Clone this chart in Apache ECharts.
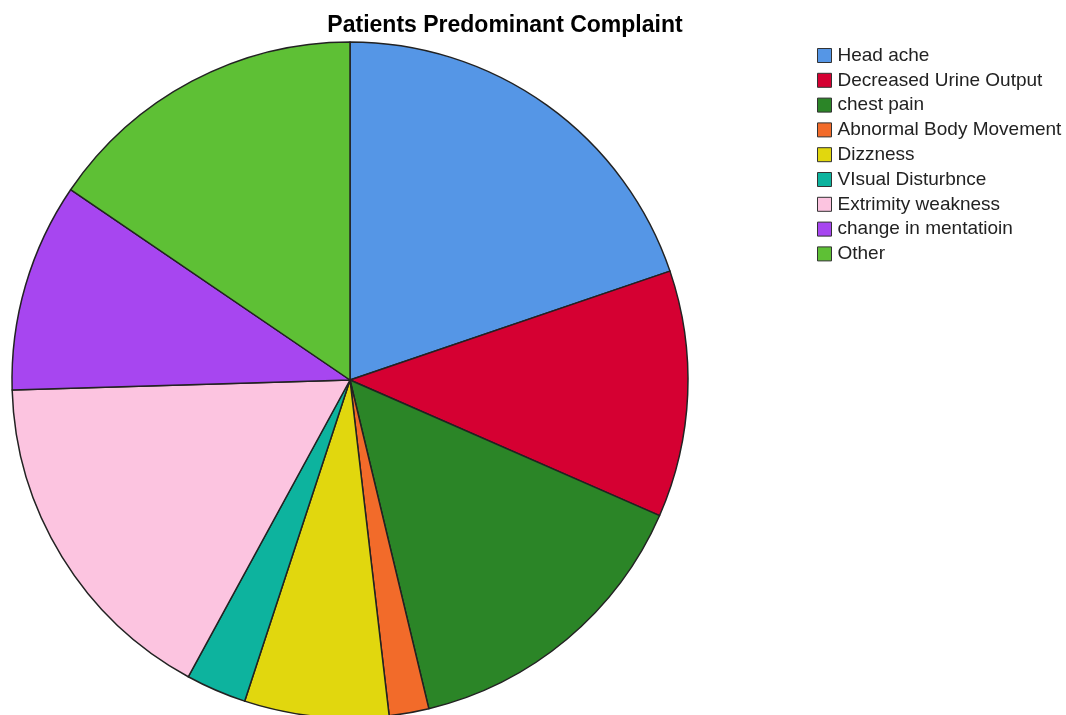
<!DOCTYPE html>
<html>
<head>
<meta charset="utf-8">
<script src="https://cdn.jsdelivr.net/npm/echarts@6/dist/echarts.min.js"></script>
<style>
  html, body { margin: 0; padding: 0; background: #fff; }
  #chart { width: 1066px; height: 715px; }
</style>
</head>
<body>
<div id="chart"></div>
<script>
// complaint categories, clockwise from 12 o'clock
const complaints = [
  "Head ache",
  "Decreased Urine Output",
  "chest pain",
  "Abnormal Body Movement",
  "Dizzness",
  "VIsual Disturbnce",
  "Extrimity weakness",
  "change in mentatioin",
  "Other"
];
// percent share
const shares = [19.8, 11.8, 14.7, 1.9, 6.9, 2.9, 16.6, 10.0, 15.5];
const colors = [
  "#5596E6", "#D50032", "#2B8527", "#F26B2A", "#E1D70E",
  "#0DB39E", "#FCC4E0", "#A746F0", "#5EC035"
];

let chart = echarts.init(document.getElementById("chart"));
let option = {
  animation: false,
  title: {
    text: "Patients Predominant Complaint",
    left: 500,
    textAlign: "center",
    top: 9,
    textStyle: {
      fontFamily: "Liberation Sans",
      fontSize: 23,
      fontWeight: "bold",
      color: "#000"
    }
  },
  legend: {
    orient: "vertical",
    left: 817,
    top: 46,
    padding: 0,
    icon: "rect",
    itemWidth: 14,
    itemHeight: 14,
    itemGap: 5.8,
    itemStyle: { borderColor: "#333", borderWidth: 1 },
    textStyle: {
      fontFamily: "Liberation Sans",
      fontSize: 19,
      color: "#222",
      padding: [0, 0, 0, 1]
    },
    data: complaints
  },
  color: colors,
  series: [
    {
      type: "pie",
      center: [350, 380],
      radius: 338,
      startAngle: 90,
      clockwise: true,
      label: { show: false },
      labelLine: { show: false },
      emphasis: { disabled: true },
      itemStyle: { borderColor: "#222", borderWidth: 1.5 },
      data: complaints.map((name, i) => ({ name, value: shares[i] }))
    }
  ]
};
chart.setOption(option);
</script>
</body>
</html>
